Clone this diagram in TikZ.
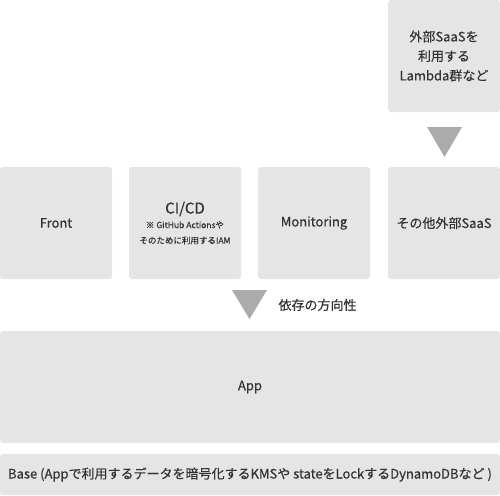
\documentclass[tikz,border=0pt]{standalone}
\usepackage{fontspec}
\setmainfont{Noto Sans CJK JP}[RawFeature={embolden=0.4}]
\usepackage{tikz}

\definecolor{boxgray}{HTML}{E5E5E5}
\definecolor{arrowgray}{HTML}{ABABAB}
\definecolor{textgray}{HTML}{333333}

\begin{document}
\begin{tikzpicture}[x=1pt,y=-1pt,
    box/.style={fill=boxgray,rounded corners=3pt,text=textgray,align=center,inner sep=0pt,
      font=\fontsize{13}{19.5}\selectfont},
    square/.style={box,minimum width=112pt,minimum height=112pt}]
  \useasboundingbox (0,0) rectangle (500,495);
  % upper layer
  \node[square] (lambda) at (444,56) {外部SaaSを\\利用する\\Lambda群など};
  \fill[arrowgray] (427,127) -- (462,127) -- (444.5,157) -- cycle;
  % middle row
  \node[square] (front) at (56,223) {Front};
  \node[square,font=\fontsize{8.5}{15.5}\selectfont] (cicd) at (185,223)
    {{\fontsize{15}{15}\selectfont CI/CD}\\[-1pt]※ GitHub Actionsや\\そのために利用するIAM};
  \node[square] (monitor) at (314,223) {Monitoring};
  \node[square] (saas) at (444,223) {その他外部SaaS};
  % dependency arrow
  \fill[arrowgray] (232,290) -- (267,290) -- (249.5,319) -- cycle;
  \node[anchor=west,text=textgray,font=\fontsize{13}{15}\selectfont] (deplabel) at (275,305) {依存の方向性};
  % lower layers
  \node[box,minimum width=500pt,minimum height=112pt] (app) at (250,387) {App};
  \node[box,minimum width=500pt,minimum height=41pt] (base) at (250,474.5) {Base (Appで利用するデータを暗号化するKMSや stateをLockするDynamoDBなど )};
\end{tikzpicture}
\end{document}
